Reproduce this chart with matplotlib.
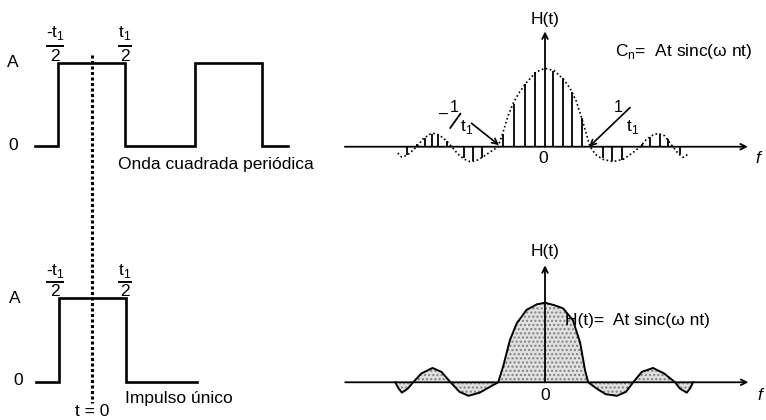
import numpy as np
import matplotlib
matplotlib.use("Agg")
import matplotlib.pyplot as plt

plt.rcParams['font.family'] = ['Liberation Sans', 'DejaVu Sans']

# Data (time in units of t1, frequency in units of 1/t1, amplitude in units of A)
sq_t = [-0.85, -0.5, -0.5, 0.5, 0.5, 1.55, 1.55, 2.55, 2.55, 2.95]
sq_v = [0, 0, 1, 1, 0, 0, 1, 1, 0, 0]
pulse_t = [-0.85, -0.5, -0.5, 0.5, 0.5, 1.57]
pulse_v = [0, 0, 1, 1, 0, 0]

# dotted envelope of the discrete spectrum (top right)
env_f = [-3.2, -3.12, -3.0, -2.9, -2.79, -2.65, -2.5, -2.43, -2.3, -2.15,
         -2.03, -1.9, -1.75, -1.63, -1.5, -1.35, -1.2, -1.02, -0.92, -0.8,
         -0.68, -0.55, -0.4, -0.2, 0.0, 0.2, 0.4, 0.55, 0.68, 0.8,
         0.9, 0.98, 1.1, 1.25, 1.48, 1.7, 1.9, 2.07, 2.2, 2.35,
         2.46, 2.6, 2.78, 2.9, 3.0, 3.1]
env_h = [-0.08, -0.13, -0.11, -0.06, 0.0, 0.1, 0.16, 0.17, 0.15, 0.08,
         0.0, -0.09, -0.16, -0.19, -0.18, -0.13, -0.07, 0.0, 0.17, 0.4,
         0.57, 0.7, 0.82, 0.95, 1.0, 0.97, 0.86, 0.74, 0.58, 0.36,
         0.16, 0.0, -0.1, -0.16, -0.19, -0.16, -0.08, 0.0, 0.09, 0.15,
         0.17, 0.14, 0.0, -0.09, -0.135, -0.1]

# spectral lines C_n
cn_f = [-3.0, -2.79, -2.61, -2.46, -2.32, -2.14, -1.76, -1.56, -1.38,
        -0.906, -0.674, -0.435, -0.217, 0.181, 0.384, 0.58, 0.797,
        1.27, 1.45, 1.67, 2.1, 2.28, 2.5, 2.68, 2.93]
cn_h = [-0.11, 0.03, 0.11, 0.16, 0.15, 0.07, -0.15, -0.18, -0.14,
        0.16, 0.55, 0.8, 0.95, 0.97, 0.87, 0.7, 0.36,
        -0.15, -0.18, -0.17, 0.03, 0.13, 0.16, 0.1, -0.09]

# continuous spectrum (bottom right)
spec_f = [-3.33, -3.25, -3.18, -3.05, -2.93, -2.75, -2.5, -2.3, -2.1, -1.9,
          -1.7, -1.45, -1.2, -1.04, -0.93, -0.78, -0.63, -0.41, -0.18, 0.0,
          0.2, 0.4, 0.62, 0.78, 0.89, 0.96, 1.15, 1.35, 1.6, 1.8,
          1.96, 2.15, 2.4, 2.65, 2.89, 3.0, 3.15, 3.22, 3.29]
spec_h = [0.0, -0.08, -0.13, -0.08, 0.0, 0.11, 0.18, 0.13, 0.0, -0.12,
          -0.17, -0.13, -0.05, 0.0, 0.2, 0.53, 0.74, 0.91, 0.98, 1.0,
          0.97, 0.93, 0.78, 0.5, 0.15, 0.0, -0.08, -0.15, -0.17, -0.12,
          0.0, 0.13, 0.18, 0.11, 0.0, -0.08, -0.13, -0.08, 0.0]

W, H = 766, 420
fig = plt.figure(figsize=(W / 100, H / 100), dpi=100)
fig.patch.set_facecolor("white")

ax_sq = fig.add_axes([0, 0.5, 330 / W, 0.5])
ax_pu = fig.add_axes([0, 0, 330 / W, 0.5])
ax_cn = fig.add_axes([330 / W, 0.5, 436 / W, 0.5])
ax_sp = fig.add_axes([330 / W, 0, 436 / W, 0.5])
for a in (ax_sq, ax_pu, ax_cn, ax_sp):
    a.set_axis_off()

ax_sq.set_xlim(-1.375, 3.575)
ax_sq.set_ylim(-0.775, 1.755)
ax_pu.set_xlim(-1.39, 3.56)
ax_pu.set_ylim(-0.458, 2.059)
ax_cn.set_xlim(-4.674, 4.804)
ax_cn.set_ylim(-0.807, 1.871)
ax_sp.set_xlim(-4.778, 4.911)
ax_sp.set_ylim(-0.474, 2.165)

fs = 12.5
k = "black"


def frac(ax, x, ytop, ybar, ybot, num, width):
    ax.text(x, ytop, num, ha="center", va="center", fontsize=fs)
    ax.plot([x - width / 2, x + width / 2], [ybar, ybar], color=k, lw=1.4)
    ax.text(x, ybot, "2", ha="center", va="center", fontsize=fs)


# left top: periodic square wave
ax_sq.plot(sq_t, sq_v, color=k, lw=1.9, solid_joinstyle="miter")
ax_sq.plot([0, 0], [1.09, -3.1], color=k, lw=2.2, ls=(0, (1, 0.8)), clip_on=False)
ax_sq.text(-1.18, 1.0, "A", ha="center", va="center", fontsize=fs)
ax_sq.text(-1.18, 0.0, "0", ha="center", va="center", fontsize=fs)
frac(ax_sq, -0.55, 1.36, 1.2, 1.08, "-t$_\\mathregular{1}$", 0.24)
frac(ax_sq, 0.5, 1.36, 1.2, 1.08, "t$_\\mathregular{1}$", 0.18)
ax_sq.text(0.39, -0.23, "Onda cuadrada periódica", ha="left", va="center", fontsize=fs)

# left bottom: single pulse
ax_pu.plot(pulse_t, pulse_v, color=k, lw=1.9, solid_joinstyle="miter")
ax_pu.text(-1.165, 1.0, "A", ha="center", va="center", fontsize=fs)
ax_pu.text(-1.12, 0.01, "0", ha="center", va="center", fontsize=fs)
frac(ax_pu, -0.565, 1.33, 1.195, 1.08, "-t$_\\mathregular{1}$", 0.24)
frac(ax_pu, 0.485, 1.33, 1.195, 1.08, "t$_\\mathregular{1}$", 0.18)
ax_pu.text(0.485, -0.2, "Impulso único", ha="left", va="center", fontsize=fs)
ax_pu.text(0.0, -0.445, "t = 0", ha="center", va="bottom", fontsize=fs)

# right top: discrete spectrum
arr = dict(arrowstyle="->", lw=1.3, color=k, shrinkA=0, shrinkB=0, mutation_scale=10)
ax_cn.annotate("", xy=(4.41, 0), xytext=(-4.35, 0), arrowprops=arr)
ax_cn.annotate("", xy=(0, 1.47), xytext=(0, 0), arrowprops=arr)
ax_cn.plot(env_f, env_h, color=k, lw=1.2, ls=(0, (1, 1.5)))
ax_cn.vlines(cn_f, 0, cn_h, color=k, lw=1.3)
ax_cn.text(0, 1.62, "H(t)", ha="center", va="center", fontsize=fs)
ax_cn.text(-0.04, -0.15, "0", ha="center", va="center", fontsize=fs)
ax_cn.text(4.63, -0.15, "f", ha="center", va="center", fontsize=fs, style="italic")
ax_cn.text(1.52, 1.22, "C$_\\mathregular{n}$=  At sinc(ω nt)", ha="left", va="center", fontsize=fs)

# -1/t1 label and arrow
ax_cn.annotate("", xy=(-1.0, 0.02), xytext=(-1.6, 0.3),
               arrowprops=dict(arrowstyle="->", lw=1.2, color=k, shrinkA=0, shrinkB=0))
ax_cn.text(-2.2, 0.41, "–", ha="center", va="center", fontsize=fs - 1)
ax_cn.text(-1.98, 0.5, "1", ha="center", va="center", fontsize=fs - 1)
ax_cn.plot([-2.06, -1.84], [0.24, 0.42], color=k, lw=1.3)
ax_cn.text(-1.7, 0.25, "t$_\\mathregular{1}$", ha="center", va="center", fontsize=fs)

# 1/t1 label and arrow
ax_cn.annotate("", xy=(0.96, 0.0), xytext=(1.85, 0.5),
               arrowprops=dict(arrowstyle="->", lw=1.2, color=k, shrinkA=0, shrinkB=0))
ax_cn.text(1.6, 0.5, "1", ha="center", va="center", fontsize=fs - 1)
ax_cn.text(1.9, 0.25, "t$_\\mathregular{1}$", ha="center", va="center", fontsize=fs)

# right bottom: continuous spectrum
ax_sp.fill_between(spec_f, spec_h, 0, facecolor="#e0e0e0", edgecolor="#808080",
                   hatch="....", linewidth=0)
ax_sp.annotate("", xy=(4.52, 0), xytext=(-4.44, 0), arrowprops=arr)
ax_sp.annotate("", xy=(0, 1.47), xytext=(0, 0), arrowprops=arr)
ax_sp.plot(spec_f, spec_h, color=k, lw=1.4)
ax_sp.text(0, 1.64, "H(t)", ha="center", va="center", fontsize=fs)
ax_sp.text(0, -0.16, "0", ha="center", va="center", fontsize=fs)
ax_sp.text(4.78, -0.16, "f", ha="center", va="center", fontsize=fs, style="italic")
ax_sp.text(0.45, 0.78, "H(t)=  At sinc(ω nt)", ha="left", va="center", fontsize=fs)

fig.savefig("out.png", dpi=100, facecolor="white")
